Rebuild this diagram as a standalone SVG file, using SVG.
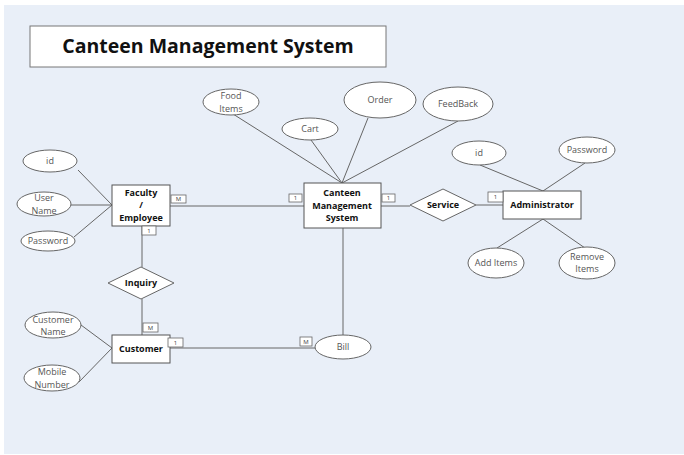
<svg xmlns="http://www.w3.org/2000/svg" width="684" height="455" viewBox="0 0 684 455">
<style>
.bg{fill:#e9eff8}
.ent{fill:#ffffff;stroke:#555;stroke-width:1}
.att{fill:#ffffff;stroke:#666;stroke-width:1}
.rel{fill:#ffffff;stroke:#666;stroke-width:1}
.card{fill:#ffffff;stroke:#666;stroke-width:0.8}
.ln{stroke:#666;stroke-width:1;fill:none}
.et{font-family:"Open Sans","Liberation Sans",sans-serif;font-weight:bold;font-size:9px;fill:#111;text-anchor:middle}
.at{font-family:"Open Sans","Liberation Sans",sans-serif;font-size:9px;fill:#555;text-anchor:middle}
.ct{font-family:"Open Sans","Liberation Sans",sans-serif;font-size:6px;fill:#444;text-anchor:middle}
.title{font-family:"Open Sans","Liberation Sans",sans-serif;font-weight:bold;font-size:19.5px;fill:#111;text-anchor:middle}
</style>
<rect x="0" y="0" width="684" height="455" fill="#ffffff"/>
<rect class="bg" x="4" y="5" width="680" height="449"/>

<g id="title">
<rect x="30" y="26" width="356" height="41" fill="#ffffff" stroke="#777" stroke-width="1"/>
<text class="title" x="208" y="53">Canteen Management System</text>
</g>

<g id="connectors">
<line class="ln" x1="78" y1="170" x2="112" y2="205"/>
<line class="ln" x1="71" y1="205" x2="112" y2="205"/>
<line class="ln" x1="74" y1="237" x2="112" y2="205"/>
<line class="ln" x1="170" y1="206" x2="304" y2="206"/>
<line class="ln" x1="142" y1="226" x2="142" y2="267"/>
<line class="ln" x1="142" y1="299" x2="142" y2="335"/>
<line class="ln" x1="233" y1="114" x2="342" y2="183"/>
<line class="ln" x1="311" y1="140" x2="342" y2="183"/>
<line class="ln" x1="368" y1="118" x2="342" y2="183"/>
<line class="ln" x1="458" y1="121" x2="342" y2="183"/>
<line class="ln" x1="381" y1="206" x2="410" y2="206"/>
<line class="ln" x1="476" y1="205" x2="503" y2="205"/>
<line class="ln" x1="480" y1="165" x2="543" y2="191"/>
<line class="ln" x1="585" y1="163" x2="543" y2="191"/>
<line class="ln" x1="543" y1="219" x2="497" y2="248"/>
<line class="ln" x1="543" y1="219" x2="585" y2="248"/>
<line class="ln" x1="343" y1="228" x2="343" y2="335"/>
<line class="ln" x1="170" y1="348" x2="316" y2="348"/>
<line class="ln" x1="81" y1="325" x2="112" y2="348"/>
<line class="ln" x1="79" y1="382" x2="112" y2="348"/>
</g>

<g id="attr-fac-id"><ellipse class="att" cx="50" cy="161" rx="27" ry="11"/><text class="at" x="50" y="164">id</text></g>
<g id="attr-username"><ellipse class="att" cx="44" cy="204" rx="27" ry="12"/><text class="at" x="44" y="201">User</text><text class="at" x="44" y="214">Name</text></g>
<g id="attr-fac-password"><ellipse class="att" cx="48" cy="241" rx="27" ry="10"/><text class="at" x="48" y="244">Password</text></g>

<g id="faculty">
<rect class="ent" x="112" y="185" width="58" height="41"/>
<text class="et" x="141" y="196">Faculty</text>
<text class="et" x="141" y="208">/</text>
<text class="et" x="141" y="221">Employee</text>
<rect class="card" x="171" y="195" width="15" height="8"/><text class="ct" x="178.5" y="201.2">M</text>
<rect class="card" x="142" y="226" width="14" height="9"/><text class="ct" x="149" y="232.5">1</text>
</g>

<g id="attr-food"><ellipse class="att" cx="231" cy="102" rx="28" ry="13"/><text class="at" x="231" y="99">Food</text><text class="at" x="231" y="111.5">Items</text></g>
<g id="attr-cart"><ellipse class="att" cx="310" cy="129" rx="28" ry="11"/><text class="at" x="310" y="132">Cart</text></g>
<g id="attr-order"><ellipse class="att" cx="380" cy="100" rx="36" ry="18"/><text class="at" x="380" y="103">Order</text></g>
<g id="attr-feedback"><ellipse class="att" cx="458" cy="104" rx="35" ry="17"/><text class="at" x="458" y="107">FeedBack</text></g>

<g id="cms">
<rect class="ent" x="304" y="183" width="77" height="45"/>
<text class="et" x="342" y="196">Canteen</text>
<text class="et" x="342" y="209">Management</text>
<text class="et" x="342" y="221">System</text>
<rect class="card" x="289" y="194" width="13" height="8"/><text class="ct" x="295.5" y="200.2">1</text>
<rect class="card" x="382" y="194" width="13" height="8"/><text class="ct" x="388.5" y="200.2">1</text>
</g>

<g id="service">
<polygon class="rel" points="410,205 443,189 476,205 443,221"/>
<text class="et" x="443" y="208">Service</text>
</g>

<g id="attr-adm-id"><ellipse class="att" cx="479" cy="153" rx="27" ry="12"/><text class="at" x="479" y="156">id</text></g>
<g id="attr-adm-password"><ellipse class="att" cx="587" cy="150" rx="28" ry="13"/><text class="at" x="587" y="153">Password</text></g>

<g id="administrator">
<rect class="ent" x="503" y="191" width="78" height="28"/>
<text class="et" x="542" y="208">Administrator</text>
<rect class="card" x="488" y="192" width="15" height="10"/><text class="ct" x="495.5" y="199">1</text>
</g>

<g id="attr-additems"><ellipse class="att" cx="496" cy="263" rx="28" ry="15"/><text class="at" x="496" y="266">Add Items</text></g>
<g id="attr-removeitems"><ellipse class="att" cx="587" cy="263" rx="28" ry="16"/><text class="at" x="587" y="259.5">Remove</text><text class="at" x="587" y="272">Items</text></g>

<g id="inquiry">
<polygon class="rel" points="108,283 141,267 174,283 141,299"/>
<text class="et" x="141" y="286">Inquiry</text>
</g>

<g id="attr-custname"><ellipse class="att" cx="53" cy="325" rx="28" ry="13"/><text class="at" x="53" y="322.5">Customer</text><text class="at" x="53" y="335">Name</text></g>
<g id="attr-mobile"><ellipse class="att" cx="52" cy="378" rx="28" ry="13"/><text class="at" x="52" y="375">Mobile</text><text class="at" x="52" y="387.5">Number</text></g>

<g id="customer">
<rect class="ent" x="112" y="335" width="58" height="28"/>
<text class="et" x="141" y="352">Customer</text>
<rect class="card" x="143" y="323" width="15" height="9"/><text class="ct" x="150.5" y="329.7">M</text>
<rect class="card" x="168" y="338" width="15" height="9"/><text class="ct" x="175.5" y="344.7">1</text>
</g>

<g id="bill">
<ellipse class="att" cx="343" cy="347" rx="28" ry="12"/>
<text class="at" x="343" y="350">Bill</text>
<rect class="card" x="300" y="337" width="12" height="9"/><text class="ct" x="306" y="343.7">M</text>
</g>
</svg>
